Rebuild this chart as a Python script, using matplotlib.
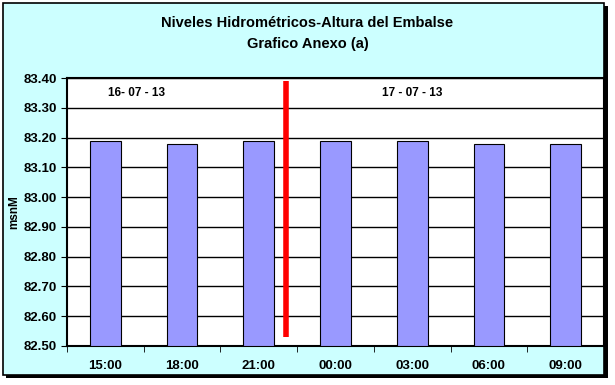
import numpy as np
import matplotlib
matplotlib.use("Agg")
import matplotlib.pyplot as plt
from matplotlib.patches import Rectangle

plt.rcParams['font.family'] = ['Liberation Sans', 'DejaVu Sans']

hours = ["15:00", "18:00", "21:00", "00:00", "03:00", "06:00", "09:00"]
levels = [83.19, 83.18, 83.19, 83.19, 83.19, 83.18, 83.18]
day_labels = ["16- 07 - 13", "17 - 07 - 13"]
day_label_x = [0.4, 4.0]
day_change_x = 2.35

fig = plt.figure(figsize=(6.15, 3.85), dpi=100)
fig.patch.set_facecolor("white")
W, H = 615, 385
# shadow + chart area box
fig.patches.append(Rectangle((6 / W, 7 / H), 602 / W, 372 / H, transform=fig.transFigure,
                             facecolor="black", edgecolor="none", zorder=-2))
fig.patches.append(Rectangle((3 / W, 10 / H), 601 / W, 372 / H, transform=fig.transFigure,
                             facecolor="#ccffff", edgecolor="black", lw=1.2, zorder=-1))

ax = fig.add_axes([67 / W, 1 - 346 / H, 537 / W, 268 / H])
ax.set_facecolor("white")
x = np.arange(len(hours))
ax.bar(x, np.array(levels) - 82.5, bottom=82.5, width=0.4, color="#9999ff",
       edgecolor="black", lw=0.8, zorder=3)
ax.set_ylim(82.5, 83.4)
ax.set_xlim(-0.5, len(hours) - 0.5)
yt = np.arange(82.5, 83.41, 0.1)
ax.set_yticks(yt)
ax.set_yticklabels([f"{v:.2f}" for v in yt])
ax.yaxis.grid(True, color="black", lw=1)
ax.set_axisbelow(True)
ax.set_xticks(x)
ax.set_xticklabels(hours)
ax.set_xticks(np.arange(-0.5, len(hours)), minor=True)
ax.tick_params(axis="x", which="major", length=0, pad=10)
ax.tick_params(axis="x", which="minor", length=4, direction="out")
ax.tick_params(axis="y", length=4, direction="out")
for lab in ax.get_xticklabels() + ax.get_yticklabels():
    lab.set_fontsize(9.5)
    lab.set_fontweight("bold")
for s in ax.spines.values():
    s.set_linewidth(1.5)

ax.plot([day_change_x, day_change_x], [82.53, 83.39], color="red", lw=4,
        solid_capstyle="butt", zorder=4)
for lx, txt in zip(day_label_x, day_labels):
    ax.text(lx, 83.35, txt, fontsize=8.5, fontweight="bold", va="center", ha="center")

fig.text(14 / W, 1 - 212 / H, "msnM", rotation=90, ha="center", va="center",
         fontsize=8.5, fontweight="bold")
fig.text(0.5, 1 - 23 / H, "Niveles Hidrométricos-Altura del Embalse", ha="center", va="center",
         fontsize=10.5, fontweight="bold")
fig.text(0.5, 1 - 44 / H, "Grafico Anexo (a)", ha="center", va="center",
         fontsize=10.5, fontweight="bold")

fig.savefig("out.png", dpi=100, facecolor=fig.get_facecolor())
